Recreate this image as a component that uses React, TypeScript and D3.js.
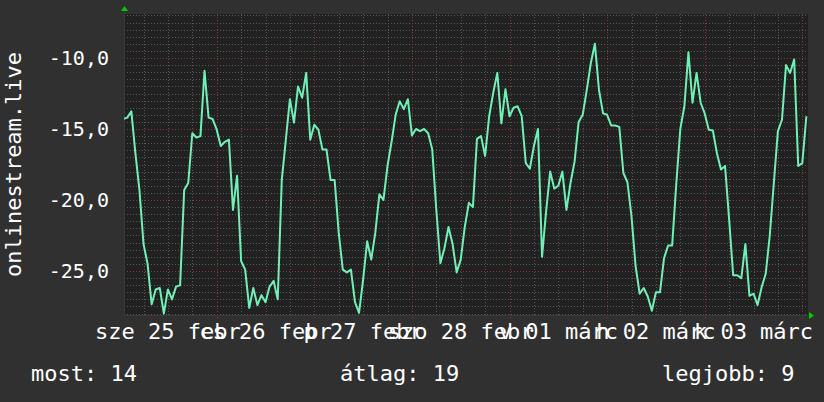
import React from "react";
import * as d3 from "d3";

// hourly readings starting Feb 25 2015 01:00
const values = [
  -14.3, -14.2, -13.75, -16.7, -19.3, -23.1, -24.5, -27.35, -26.3, -26.2,
  -28, -26.3, -27, -26.1, -26, -19.3, -18.8, -15.3, -15.6, -15.5,
  -10.9, -14.2, -14.3, -15.05, -16.2, -15.9, -15.75, -20.7, -18.3, -24.3,
  -24.9, -27.6, -26.2, -27.4, -26.7, -27.2, -26.1, -25.7, -27, -18.6,
  -15.75, -12.9, -14.55, -12, -12.8, -11.05, -15.75, -14.7, -15.05, -16.45,
  -16.45, -18.6, -18.6, -22.3, -24.9, -25.1, -24.9, -27.2, -27.95, -25.6,
  -22.9, -24.2, -22.3, -19.6, -20, -17.6, -15.9, -14, -13.05, -13.6,
  -12.9, -15.45, -15, -15.15, -15, -15.3, -16.45, -20.7, -24.45, -23.4,
  -21.9, -23.1, -25.1, -24.2, -21.9, -20.2, -20.5, -15.7, -15.5, -16.9,
  -14.1, -12.45, -11.05, -14.6, -12.2, -14.1, -13.5, -13.4, -14.1, -17.4,
  -17.8, -16.2, -15.0, -24.0, -20.8, -18, -19.2, -19, -18, -20.7,
  -18.8, -17.3, -14.5, -14, -12.25, -10.35, -9.0, -12.25, -13.9, -14,
  -14.75, -14.75, -14.85, -18.1, -18.75, -21.15, -24.65, -26.6, -26.2, -26.8,
  -27.8, -26.5, -26.5, -24.1, -23.2, -23.2, -18.9, -15, -13.4, -9.6,
  -13.15, -11.05, -13.15, -13.9, -15.05, -15.1, -16.7, -17.85, -17.6, -21.35,
  -25.3, -25.3, -25.5, -23.1, -26.75, -26.6, -27.4, -26.15, -25.2, -22.5,
  -18.8, -15.15, -14.35, -10.5, -11.05, -10.1, -17.6, -17.4, -14.1,
];

const dayLabels = [
  "sze 25 febr",
  "cs 26 febr",
  "p 27 febr",
  "szo 28 febr",
  "v 01 márc",
  "h 02 márc",
  "k 03 márc",
];

const yTicks = [-10, -15, -20, -25];
const legendLabels = ["most", "átlag", "legjobb"];
const legendValues = [14, 19, 9];

const W = 824;
const H = 402;
const plot = { left: 124, right: 808, top: 14, bottom: 315 };
const FONT = "'DejaVu Sans Mono', monospace";

const start = new Date(2015, 1, 25, 0, 0, 0);
const hour = 3600 * 1000;
const at = (h: number) => new Date(start.getTime() + h * hour);

const numFmt = d3
  .formatLocale({
    decimal: ",",
    thousands: " ",
    grouping: [3],
    currency: ["", ""],
    minus: "-",
  })
  .format(".1f");

export default function App() {
  const x = d3
    .scaleTime()
    .domain([at(1.2), at(169.4)])
    .range([plot.left, plot.right]);
  const y = d3
    .scaleLinear()
    .domain([-28.1, -6.9])
    .range([plot.bottom, plot.top]);

  const pts = values.map((v, i) => ({ t: at(i + 1), v }));
  const line = d3
    .line<{ t: Date; v: number }>()
    .x((d) => x(d.t))
    .y((d) => y(d.v));

  // grid positions
  const minorY = d3.range(-28, -6.9, 0.5);
  const gridHours = d3.range(0, 170, 6).filter((h) => x(at(h)) > plot.left);
  const days = d3.range(0, 7);

  return (
    <svg
      width={W}
      height={H}
      style={{ position: "absolute", left: 0, top: 0, display: "block" }}
      fontFamily={FONT}
    >
      <defs>
        <clipPath id="plotClip">
          <rect
            x={plot.left}
            y={plot.top}
            width={plot.right - plot.left}
            height={plot.bottom - plot.top}
          />
        </clipPath>
      </defs>
      <rect width={W} height={H} fill="#303030" />
      <rect
        x={plot.left}
        y={plot.top}
        width={plot.right - plot.left}
        height={plot.bottom - plot.top}
        fill="#212121"
      />

      {/* horizontal grid */}
      {minorY.map((v, i) => {
        const major = v % 5 === 0;
        return (
          <line
            key={`h-${i}`}
            x1={plot.left}
            x2={plot.right}
            y1={Math.round(y(v)) + 0.5}
            y2={Math.round(y(v)) + 0.5}
            stroke={major ? "#7c3a3a" : "#575757"}
            strokeWidth={1}
            strokeDasharray="1,2"
          />
        );
      })}

      {/* vertical grid */}
      {gridHours.map((h) => {
        const major = h % 24 === 0;
        const px = Math.round(x(at(h))) + 0.5;
        return (
          <line
            key={`v-${h}`}
            x1={px}
            x2={px}
            y1={plot.top}
            y2={plot.bottom + (major ? 3 : 0)}
            stroke={major ? "#7c3a3a" : "#575757"}
            strokeWidth={1}
            strokeDasharray={major ? "1,2" : "1,2"}
          />
        );
      })}

      {/* axes */}
      <line
        x1={plot.left + 0.5}
        x2={plot.left + 0.5}
        y1={plot.top - 2}
        y2={plot.bottom}
        stroke="#3a3a3a"
      />
      <line
        x1={plot.left}
        x2={plot.right + 4}
        y1={plot.bottom + 0.5}
        y2={plot.bottom + 0.5}
        stroke="#3a3a3a"
      />
      <path
        d={`M${plot.left - 3},${plot.top - 3} L${plot.left + 4},${plot.top - 3} L${plot.left + 0.5},${plot.top - 8} Z`}
        fill="#00cc00"
      />
      <path
        d={`M${plot.right + 1},${plot.bottom - 3} L${plot.right + 1},${plot.bottom + 4} L${plot.right + 6},${plot.bottom + 0.5} Z`}
        fill="#00cc00"
      />

      {/* data */}
      <g clipPath="url(#plotClip)">
        <path
          d={line(pts) ?? ""}
          fill="none"
          stroke="#70f0b6"
          strokeWidth={2}
          strokeLinejoin="round"
        />
      </g>

      {/* y labels */}
      {yTicks.map((v) => (
        <text
          key={`yl-${v}`}
          x={109}
          y={y(v) + 7}
          fill="#ffffff"
          fontSize={20}
          textAnchor="end"
        >
          {numFmt(v)}
        </text>
      ))}

      {/* x labels, centered at noon */}
      {days.map((d) => (
        <text
          key={`xl-${d}`}
          x={x(at(d * 24 + 12))}
          y={339}
          fill="#ffffff"
          fontSize={22}
          textAnchor="middle"
        >
          {dayLabels[d]}
        </text>
      ))}

      {/* vertical title */}
      <text
        transform={`translate(21, ${(plot.top + plot.bottom) / 2}) rotate(-90)`}
        fill="#ffffff"
        fontSize={22}
        textAnchor="middle"
      >
        onlinestream.live
      </text>

      {/* legend */}
      {legendLabels.map((l, i) => (
        <text
          key={`lg-${i}`}
          x={[31, 340, 662][i]}
          y={381}
          fill="#ffffff"
          fontSize={22}
        >
          {`${l}: ${legendValues[i]}`}
        </text>
      ))}
    </svg>
  );
}
